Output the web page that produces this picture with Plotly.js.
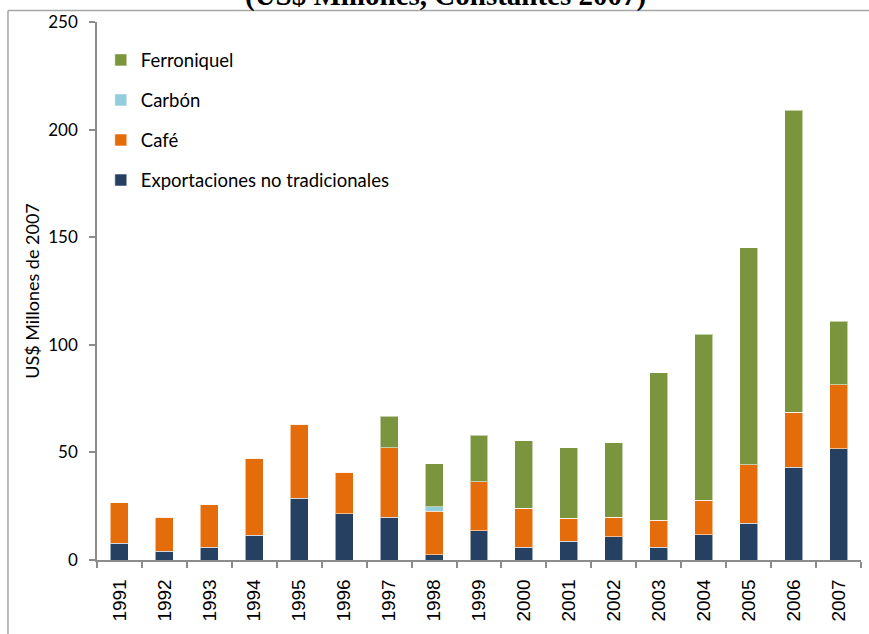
<!DOCTYPE html>
<html>
<head>
<meta charset="utf-8">
<script src="https://cdn.plot.ly/plotly-3.0.1.min.js"></script>
<style>
  html, body { margin: 0; padding: 0; background: #ffffff; overflow: hidden; }
  #chart { width: 869px; height: 634px; }
</style>
</head>
<body>
<div id="chart"></div>
<script>
// Years on the category axis
const years = ["1991", "1992", "1993", "1994", "1995", "1996", "1997", "1998", "1999",
  "2000", "2001", "2002", "2003", "2004", "2005", "2006", "2007"];

// US$ millones de 2007
const noTradicionales = [7.8, 4.1, 6.0, 11.4, 28.7, 21.6, 19.9, 2.4, 13.5,
  6.0, 8.8, 10.9, 6.0, 11.7, 17.1, 43.2, 51.7];
const cafe = [18.8, 15.8, 19.7, 35.9, 34.3, 19.1, 32.3, 20.2, 22.8,
  18.1, 10.5, 9.0, 12.4, 16.1, 27.2, 25.4, 29.8];
const carbon = [0, 0, 0, 0, 0, 0, 0, 2.1, 0,
  0, 0, 0, 0, 0, 0, 0, 0];
const ferroniquel = [0, 0, 0, 0, 0, 0, 14.7, 20.0, 21.7,
  31.3, 32.9, 34.6, 68.5, 77.2, 100.7, 140.5, 29.4];

const yTicks = [0, 50, 100, 150, 200, 250];

const edge = { color: "rgba(255,255,255,0.55)", width: 1 };

function series(name, values, color, rank) {
  return {
    type: "bar",
    name: name,
    x: years,
    y: values,
    legendgroup: name,
    legendrank: rank,
    marker: { color: color, line: edge },
    hovertemplate: "%{x}<br>" + name + ": %{y:.1f}<extra></extra>",
  };
}

const data = [
  series("Exportaciones no tradicionales", noTradicionales, "#254061", 4),
  series("Café", cafe, "#e46c0a", 3),
  series("Carbón", carbon, "#92cddc", 2),
  series("Ferroniquel", ferroniquel, "#7a953d", 1),
];

const axisGray = "#8c8c8c";
const frameGray = "#a6a6a6";

const layout = {
  width: 869,
  height: 634,
  paper_bgcolor: "#ffffff",
  plot_bgcolor: "#ffffff",
  font: { family: "Lato, 'Open Sans', sans-serif", size: 16, color: "#000000" },
  barmode: "stack",
  bargap: 0.6,
  margin: { t: 22, b: 74, l: 97, r: 8 },
  xaxis: {
    type: "category",
    showline: true,
    linecolor: axisGray,
    linewidth: 1.5,
    ticks: "outside",
    tickson: "boundaries",
    ticklen: 6,
    tickcolor: axisGray,
    tickwidth: 1.5,
    tickangle: -90,
    ticklabelstandoff: 10,
    tickfont: { family: "'Liberation Sans Narrow', 'Liberation Sans', Arial, sans-serif", size: 19, color: "#000000" },
    showgrid: false,
    zeroline: false,
  },
  yaxis: {
    range: [0, 250],
    tickvals: yTicks,
    showline: true,
    linecolor: axisGray,
    linewidth: 1.5,
    ticks: "outside",
    ticklen: 6,
    tickcolor: axisGray,
    tickwidth: 1.5,
    ticklabelstandoff: 8,
    tickfont: { size: 17, color: "#000000" },
    showgrid: false,
    zeroline: false,
    title: { text: "US$ Millones de 2007", font: { size: 18, color: "#000000" }, standoff: 4 },
  },
  showlegend: true,
  legend: {
    x: 0.005,
    y: 0.964,
    xanchor: "left",
    yanchor: "top",
    traceorder: "grouped",
    tracegroupgap: 13,
    bgcolor: "rgba(255,255,255,0)",
    font: { size: 18.5, color: "#000000" },
  },
  // outer frame: only its top and left edges fall inside the picture
  shapes: [
    {
      type: "line",
      xref: "paper",
      yref: "paper",
      x0: -0.1165,
      x1: 1.0105,
      y0: 1.0214,
      y1: 1.0214,
      line: { color: frameGray, width: 1.5 },
      layer: "below",
    },
    {
      type: "line",
      xref: "paper",
      yref: "paper",
      x0: -0.1165,
      x1: -0.1165,
      y0: -0.2,
      y1: 1.0214,
      line: { color: frameGray, width: 1.5 },
      layer: "below",
    },
  ],
  annotations: [
    {
      text: "<b>(US$ Millones, Constantes 2007)</b>",
      xref: "paper",
      yref: "paper",
      x: 0.456,
      y: 1.014,
      xanchor: "center",
      yanchor: "bottom",
      showarrow: false,
      font: { family: "'Liberation Serif', 'Times New Roman', serif", size: 29, color: "#000000" },
    },
  ],
};

Plotly.newPlot("chart", data, layout, { displayModeBar: false, responsive: false });
</script>
</body>
</html>
